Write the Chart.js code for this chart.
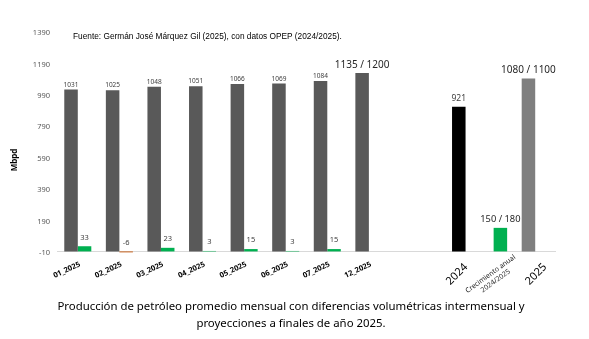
<!DOCTYPE html>
<html lang="es">
<head>
<meta charset="utf-8">
<title>Producción de petróleo 2025</title>
<script src="https://cdn.jsdelivr.net/npm/chart.js@4/dist/chart.umd.min.js"></script>
<style>
  html, body { margin: 0; padding: 0; background: #fff; }
  #wrap { width: 589px; height: 339px; position: relative; }
</style>
</head>
<body>
<div id="wrap"><canvas id="produccion-chart"></canvas></div>
<script>
// categorias del eje x (la vacia separa los meses de los totales anuales)
const categorias = ['01_2025', '02_2025', '03_2025', '04_2025', '05_2025', '06_2025', '07_2025', '12_2025', '', '2024', 'Crecimiento anual|2024/2025', '2025'];

// produccion mensual y proyecciones (Mbpd)
const produccion = [1031, 1025, 1048, 1051, 1066, 1069, 1084, 1135, null, null, null, 1100];
// diferencia intermensual y crecimiento anual
const variacion = [33, -6, 23, 3, 15, 3, 15, null, null, null, 150, null];
// promedio 2024
const promedio2024 = [null, null, null, null, null, null, null, null, null, 921, null, null];

const etiquetasProduccion = ['1031', '1025', '1048', '1051', '1066', '1069', '1084', '1135 / 1200', null, null, null, '1080 / 1100'];
const etiquetasVariacion = ['33', '-6', '23', '3', '15', '3', '15', null, null, '921', '150 / 180', null];

const ejeY = { min: -10, max: 1390, paso: 200 };

const fuente = 'Fuente: Germán José Márquez Gil (2025), con datos OPEP (2024/2025).';
const pie = ['Producción de petróleo promedio mensual con diferencias volumétricas intermensual y', 'proyecciones a finales de año 2025.'];

const SANS = '"Noto Sans", sans-serif';

const derecha = variacion.map((v, i) => promedio2024[i] != null ? promedio2024[i] : v);

const coloresIzq = produccion.map((v, i) => categorias[i] === '2025' ? '#7f7f7f' : '#595959');
const coloresDer = derecha.map((v, i) => {
    if (promedio2024[i] != null) return '#000000';
    return v < 0 ? '#c55a11' : '#00b050';
});

const textos = {
    id: 'textos',
    beforeDatasetsDraw(chart) {
        const { ctx, chartArea, scales } = chart;
        const y0 = scales.y.getPixelForValue(0);
        ctx.save();
        ctx.strokeStyle = '#d9d9d9';
        ctx.lineWidth = 1;
        ctx.beginPath();
        ctx.moveTo(chartArea.left, Math.round(y0) + 0.5);
        ctx.lineTo(chartArea.right, Math.round(y0) + 0.5);
        ctx.stroke();
        ctx.restore();
    },
    afterDatasetsDraw(chart) {
        const { ctx, chartArea, scales } = chart;
        ctx.save();
        ctx.textAlign = 'center';
        ctx.textBaseline = 'bottom';

        // etiquetas de valor sobre las barras grises
        chart.getDatasetMeta(0).data.forEach((bar, i) => {
            const txt = etiquetasProduccion[i];
            if (!txt) return;
            const grande = txt.includes('/');
            ctx.font = grande ? '10px ' + SANS : '6.5px ' + SANS;
            ctx.fillStyle = grande ? '#262626' : '#404040';
            ctx.fillText(txt, bar.x, bar.y - (grande ? 3 : 1.5));
        });

        // etiquetas de la segunda serie
        chart.getDatasetMeta(1).data.forEach((bar, i) => {
            const txt = etiquetasVariacion[i];
            if (!txt) return;
            let size = 7.5, gap = 5;
            if (promedio2024[i] != null) { size = 8.5; gap = 4; }
            else if (txt.includes('/')) { size = 9.3; gap = 4; }
            ctx.font = size + 'px ' + SANS;
            ctx.fillStyle = txt.includes('/') ? '#262626' : '#404040';
            ctx.fillText(txt, bar.x, Math.min(bar.y, bar.base) - gap);
        });

        // etiquetas del eje x
        const x = scales.x;
        const top = chartArea.bottom + 7.5;
        ctx.fillStyle = '#000';
        categorias.forEach((cat, i) => {
            if (!cat) return;
            const px = x.getPixelForValue(i);
            ctx.save();
            if (cat.includes('|')) {
                const lineas = cat.split('|');
                ctx.translate(px - 3, chartArea.bottom + 21);
                ctx.rotate(-36 * Math.PI / 180);
                ctx.font = '7px ' + SANS;
                ctx.fillStyle = '#262626';
                ctx.textAlign = 'center';
                ctx.textBaseline = 'middle';
                ctx.fillText(lineas[0], 0, 0);
                ctx.fillText(lineas[1], 0, 8.5);
            } else if (cat.length === 4) {
                ctx.translate(px + (cat === '2024' ? 10 : 6), top + 1);
                ctx.rotate(-45 * Math.PI / 180);
                ctx.font = '11px ' + SANS;
                ctx.textAlign = 'right';
                ctx.textBaseline = 'top';
                ctx.fillText(cat, 0, 0);
            } else {
                ctx.translate(px + 0.5, top);
                ctx.rotate(-25 * Math.PI / 180);
                ctx.font = 'bold 7.5px ' + SANS;
                ctx.textAlign = 'right';
                ctx.textBaseline = 'top';
                ctx.fillText(cat, 0, 0);
            }
            ctx.restore();
        });

        // titulo del eje y
        ctx.save();
        ctx.translate(15, 160);
        ctx.rotate(-Math.PI / 2);
        ctx.font = 'bold 8px ' + SANS;
        ctx.fillStyle = '#000';
        ctx.textAlign = 'center';
        ctx.textBaseline = 'middle';
        ctx.fillText('Mbpd', 0, 0);
        ctx.restore();

        // fuente
        ctx.font = '8.3px "Liberation Sans", Arial, sans-serif';
        ctx.fillStyle = '#000';
        ctx.textAlign = 'left';
        ctx.textBaseline = 'middle';
        ctx.fillText(fuente, 73, 37);

        // pie del grafico
        ctx.font = '11.4px ' + SANS;
        ctx.textAlign = 'center';
        ctx.fillText(pie[0], 291, 307);
        ctx.fillText(pie[1], 291, 324);
        ctx.restore();
    }
};

new Chart(document.getElementById('produccion-chart'), {
    type: 'bar',
    data: {
        labels: categorias,
        datasets: [
            {
                label: 'Producción',
                data: produccion,
                backgroundColor: coloresIzq,
                barPercentage: 1,
                categoryPercentage: 0.65
            },
            {
                label: 'Variación',
                data: derecha,
                backgroundColor: coloresDer,
                barPercentage: 1,
                categoryPercentage: 0.65
            }
        ]
    },
    options: {
        responsive: true,
        maintainAspectRatio: false,
        animation: false,
        layout: { padding: { top: 33, right: 33, bottom: 86, left: 0 } },
        plugins: {
            legend: { display: false },
            tooltip: { enabled: false }
        },
        scales: {
            x: { display: false },
            y: {
                min: ejeY.min,
                max: ejeY.max,
                grid: { display: false, drawTicks: false },
                border: { display: false },
                ticks: {
                    stepSize: ejeY.paso,
                    padding: 7,
                    color: '#595959',
                    font: { family: SANS, size: 7.5 },
                    callback: (v) => String(v)
                },
                afterFit(scale) { scale.width = 57; }
            }
        }
    },
    plugins: [textos]
});
</script>
</body>
</html>
